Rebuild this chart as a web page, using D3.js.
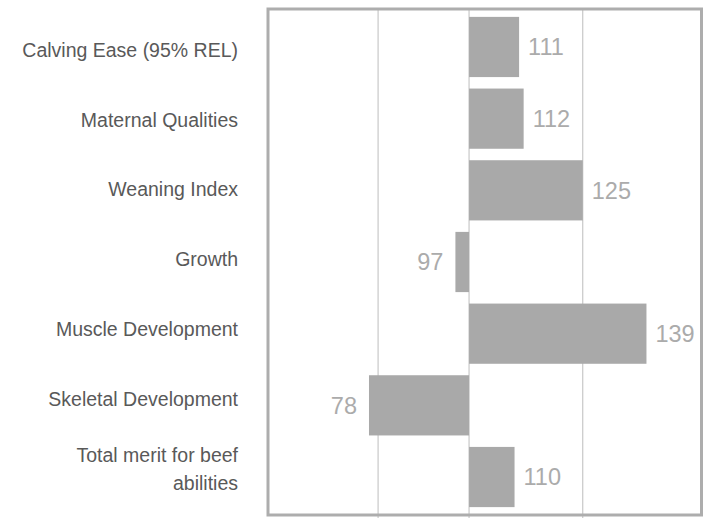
<!DOCTYPE html>
<html>
<head>
<meta charset="utf-8">
<script src="https://cdn.jsdelivr.net/npm/d3@7"></script>
<style>
  html, body { margin: 0; padding: 0; background: #ffffff; }
  svg { display: block; }
</style>
</head>
<body>
<svg id="chart" width="715" height="525"></svg>
<script>
// Trait categories (top to bottom) and their index scores (100 = average)
const categories = [
  "Calving Ease (95% REL)",
  "Maternal Qualities",
  "Weaning Index",
  "Growth",
  "Muscle Development",
  "Skeletal Development",
  "Total merit for beef abilities"
];
const scores = [111, 112, 125, 97, 139, 78, 110];

// Reference level the bars diverge from, and grid line values
const baseline = 100;
const gridValues = [80, 100, 125];
const axisDomain = [55.8, 151.1];

const svg = d3.select("#chart");

const frame = { left: 268, right: 701.5, top: 9, bottom: 515 };

const x = d3.scaleLinear()
  .domain(axisDomain)
  .range([frame.left, frame.right]);

const y = d3.scaleBand()
  .domain(categories)
  .range([frame.top, frame.bottom])
  .paddingInner(0.16)
  .paddingOuter(0.11);

const labelY = d3.scalePoint()
  .domain(categories)
  .range([50, 469]);

// Vertical grid lines
svg.append("g")
  .selectAll("line")
  .data(gridValues)
  .join("line")
  .attr("x1", d => x(d))
  .attr("x2", d => x(d))
  .attr("y1", frame.top)
  .attr("y2", frame.bottom + 3)
  .attr("stroke", "#bdbdbd")
  .attr("stroke-width", 1);

// Bars from the baseline to each score
svg.append("g")
  .selectAll("rect")
  .data(categories.map((c, i) => ({ c, v: scores[i] })))
  .join("rect")
  .attr("x", d => x(Math.min(d.v, baseline)))
  .attr("width", d => Math.abs(x(d.v) - x(baseline)))
  .attr("y", d => y(d.c))
  .attr("height", y.bandwidth())
  .attr("fill", "#a9a9a9");

// Value labels beside each bar
svg.append("g")
  .selectAll("text")
  .data(categories.map((c, i) => ({ c, v: scores[i] })))
  .join("text")
  .attr("x", d => d.v >= baseline ? x(d.v) + 9 : x(d.v) - 12)
  .attr("y", d => y(d.c) + y.bandwidth() / 2)
  .attr("dy", "0.35em")
  .attr("text-anchor", d => d.v >= baseline ? "start" : "end")
  .attr("font-family", "'Liberation Sans', Arial, sans-serif")
  .attr("font-size", 23.5)
  .attr("fill", "#ababab")
  .text(d => d.v);

// Category labels, wrapped when too long
const labelFont = "'Liberation Sans', Arial, sans-serif";
const catLabels = svg.append("g")
  .selectAll("text")
  .data(categories)
  .join("text")
  .attr("text-anchor", "end")
  .attr("font-family", labelFont)
  .attr("font-size", 19.5)
  .attr("fill", "#595959");

catLabels.each(function(d) {
  const t = d3.select(this);
  const lines = d.length > 24 ? ["Total merit for beef", "abilities"] : [d];
  const lh = 27.5;
  const y0 = labelY(d) - (lines.length - 1) * lh / 2;
  lines.forEach((ln, k) => {
    t.append("tspan")
      .attr("x", 238)
      .attr("y", y0 + k * lh)
      .attr("dy", "0.35em")
      .text(ln);
  });
});

// Plot frame
svg.append("rect")
  .attr("x", frame.left)
  .attr("y", frame.top)
  .attr("width", frame.right - frame.left)
  .attr("height", frame.bottom - frame.top)
  .attr("fill", "none")
  .attr("stroke", "#adadad")
  .attr("stroke-width", 3);
</script>
</body>
</html>
